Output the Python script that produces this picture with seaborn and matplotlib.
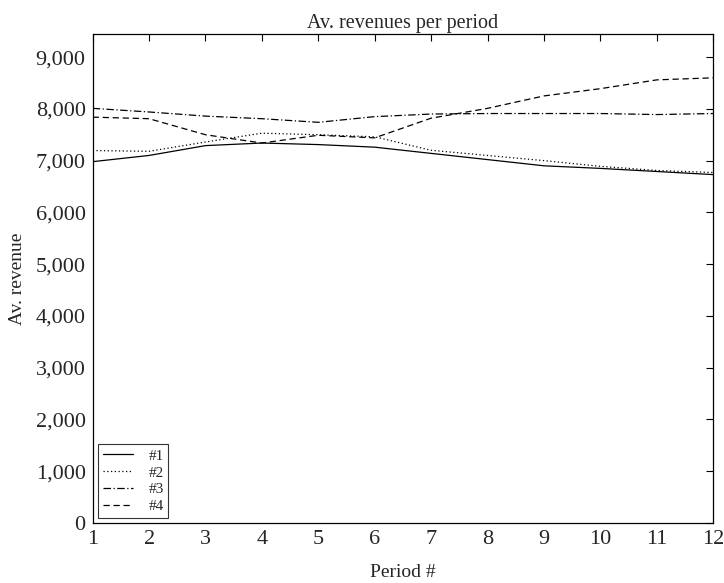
import pandas as pd
import numpy as np
import matplotlib
matplotlib.use("Agg")
import matplotlib.pyplot as plt
import seaborn as sns

# Data
periods = [1, 2, 3, 4, 5, 6, 7, 8, 9, 10, 11, 12]
rev_1 = [6980, 7100, 7290, 7340, 7310, 7260, 7140, 7020, 6900, 6850, 6790, 6730]
rev_2 = [7195, 7180, 7360, 7530, 7500, 7460, 7200, 7100, 7000, 6890, 6810, 6770]
rev_3 = [8010, 7940, 7860, 7810, 7740, 7850, 7900, 7910, 7910, 7910, 7890, 7910]
rev_4 = [7840, 7810, 7500, 7340, 7490, 7440, 7820, 8010, 8250, 8390, 8560, 8600]
series_names = ["#1", "#2", "#3", "#4"]
y_ticks = [0, 1000, 2000, 3000, 4000, 5000, 6000, 7000, 8000, 9000]

# long format for seaborn
df = pd.DataFrame({
    "period": periods * 4,
    "revenue": rev_1 + rev_2 + rev_3 + rev_4,
    "series": np.repeat(series_names, len(periods)),
})

sns.set_theme(style="white")
plt.rcParams["font.family"] = ["Liberation Serif", "DejaVu Serif"]

fig = plt.figure(figsize=(7.24, 5.83), dpi=100)
ax = fig.add_axes([0.128, 0.103, 0.857, 0.839])

dash_styles = {"#1": "", "#2": (1, 2), "#3": (6, 2, 1, 2), "#4": (5, 3)}
sns.lineplot(data=df, x="period", y="revenue", hue="series", style="series",
             palette=["black"] * 4, dashes=dash_styles, linewidth=0.9, ax=ax)

ax.set_xlim(1, 12)
ax.set_ylim(0, 9450)
ax.set_xticks(periods)
ax.set_yticks(y_ticks)
ax.set_yticklabels([f"{v:,}" for v in y_ticks])
ax.tick_params(direction="in", top=True, right=True, length=5, width=0.8,
               labelsize=16, color="black")
ax.tick_params(axis="x", pad=5)
ax.tick_params(axis="y", pad=5)
for s in ax.spines.values():
    s.set_color("black")
    s.set_linewidth(0.9)

ax.set_title("Av. revenues per period", fontsize=14.5, pad=4)
ax.set_xlabel("Period #", fontsize=14, labelpad=11)
ax.set_ylabel("Av. revenue", fontsize=14, labelpad=7)

leg = ax.legend(loc="lower left", fontsize=11, frameon=True, fancybox=False,
                handlelength=2.0, handletextpad=1.0, borderaxespad=0.35,
                labelspacing=0.2, borderpad=0.3)
leg.get_frame().set_edgecolor("black")
leg.get_frame().set_linewidth(0.8)

fig.savefig("out.png", dpi=100)
